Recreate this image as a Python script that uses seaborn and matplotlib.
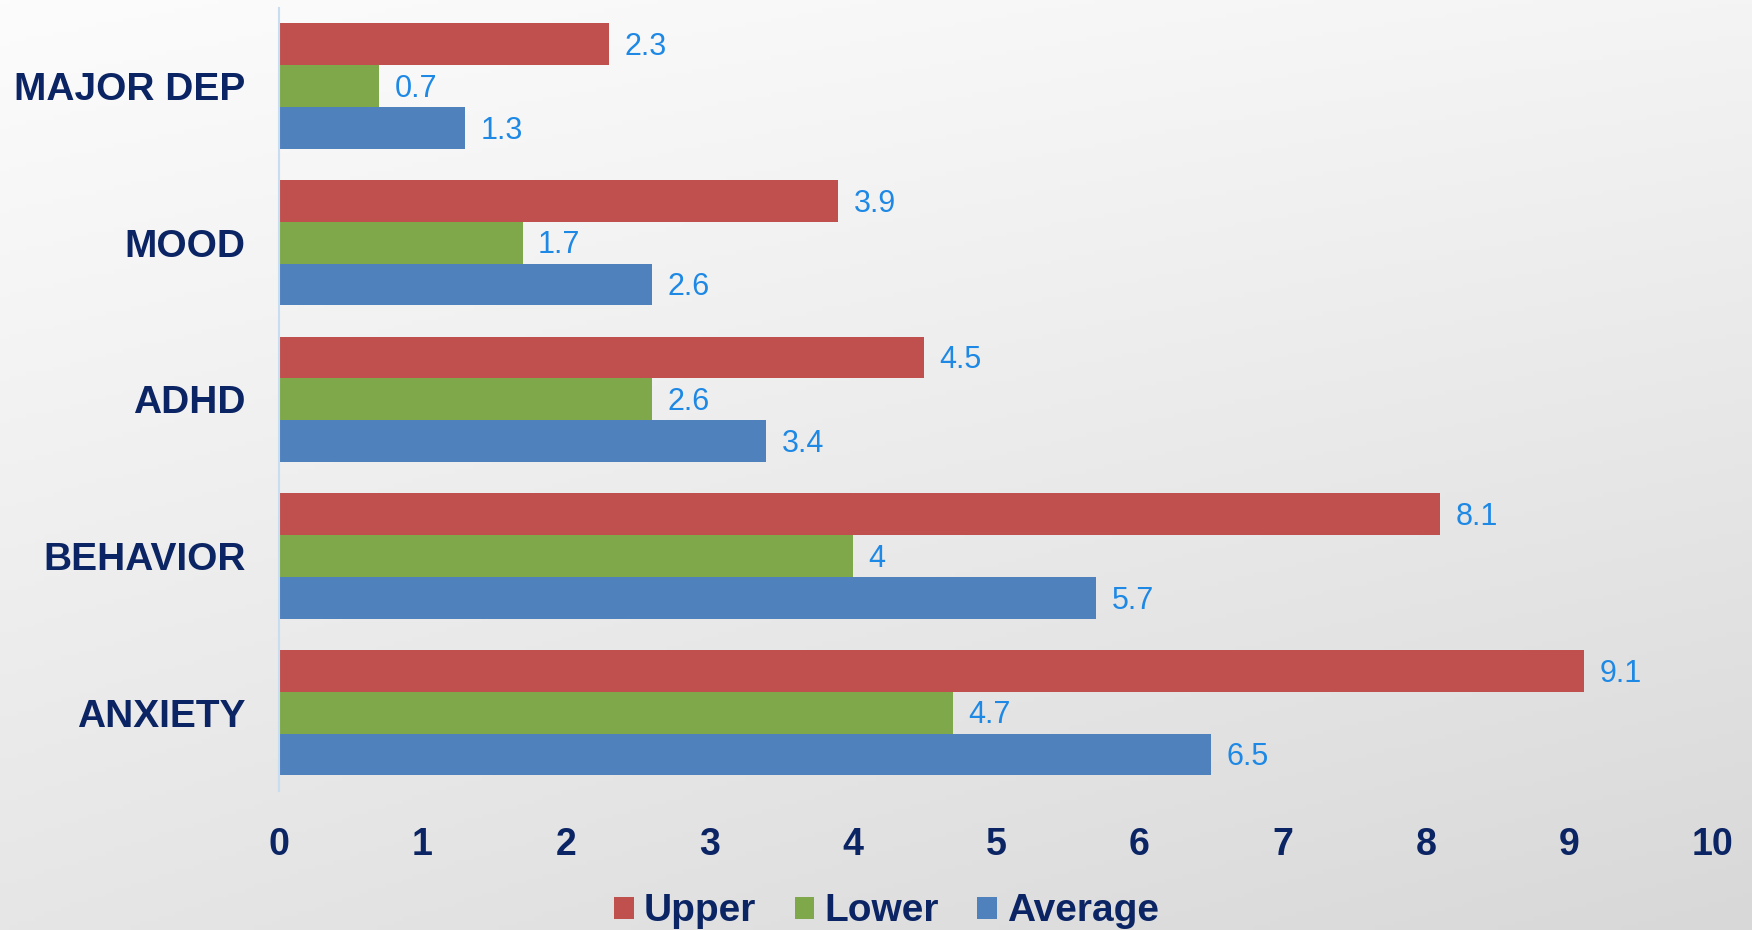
import numpy as np
import pandas as pd
import matplotlib
matplotlib.use("Agg")
import matplotlib.pyplot as plt
import seaborn as sns

categories = ["MAJOR DEP", "MOOD", "ADHD", "BEHAVIOR", "ANXIETY"]
series = ["Upper", "Lower", "Average"]
upper = [2.3, 3.9, 4.5, 8.1, 9.1]
lower = [0.7, 1.7, 2.6, 4, 4.7]
average = [1.3, 2.6, 3.4, 5.7, 6.5]
x_ticks = [0, 1, 2, 3, 4, 5, 6, 7, 8, 9, 10]

colors = ["#C0504D", "#7FA84A", "#4F81BD"]
navy = "#0B2463"
label_blue = "#1E88E5"

df = pd.DataFrame({
    "category": categories * 3,
    "series": ["Upper"] * 5 + ["Lower"] * 5 + ["Average"] * 5,
    "value": upper + lower + average,
})

sns.set_style("white")
plt.rcParams["font.family"] = ["Liberation Sans", "DejaVu Sans"]

fig = plt.figure(figsize=(17.52, 9.30), dpi=100)

# gradient background (white top-left to grey bottom-right)
bg = fig.add_axes([0, 0, 1, 1], zorder=-10)
yy, xx = np.mgrid[0:1:200j, 0:1:200j]
shade = (252 * (1 - xx) * (1 - yy) + 244 * xx * (1 - yy)
         + 230 * (1 - xx) * yy + 216 * xx * yy) / 255.0
bg.imshow(np.dstack([shade, shade, shade]), extent=[0, 1, 0, 1], aspect="auto")
bg.axis("off")

ax = fig.add_axes([0.1592, 0.1495, 0.8185, 0.8422])
ax.set_facecolor("none")

sns.barplot(data=df, x="value", y="category", hue="series", order=categories,
            hue_order=series, palette=colors, orient="h", width=0.8,
            saturation=1, edgecolor="none", linewidth=0, ax=ax)

# value labels to the right of each bar
for cont in ax.containers:
    for b in cont:
        w = b.get_width()
        ax.annotate(f"{w:g}", (w, b.get_y() + b.get_height() / 2),
                    xytext=(11, -2), textcoords="offset points",
                    ha="left", va="center", color=label_blue, fontsize=22)

ax.set_xlim(0, 10)
ax.set_ylim(4.5, -0.5)
ax.set_xticks(x_ticks)
ax.set_xlabel("")
ax.set_ylabel("")
ax.tick_params(axis="x", length=0, pad=26, labelsize=27, labelcolor=navy)
ax.tick_params(axis="y", length=0, pad=24, labelsize=28, labelcolor=navy)
for lab in ax.get_xticklabels() + ax.get_yticklabels():
    lab.set_fontweight("bold")

for side in ["top", "right", "bottom"]:
    ax.spines[side].set_visible(False)
ax.spines["left"].set_color("#C9DDF0")
ax.spines["left"].set_linewidth(1.5)

handles, labels = ax.get_legend_handles_labels()
ax.get_legend().remove()
leg = fig.legend(handles, labels, loc="center", bbox_to_anchor=(0.506, 0.02),
                 ncol=3, frameon=False, fontsize=28, handlelength=0.5,
                 handleheight=0.5, handletextpad=0.25, columnspacing=1.0)
for t in leg.get_texts():
    t.set_color(navy)
    t.set_fontweight("bold")

fig.savefig("out.png", dpi=100)
